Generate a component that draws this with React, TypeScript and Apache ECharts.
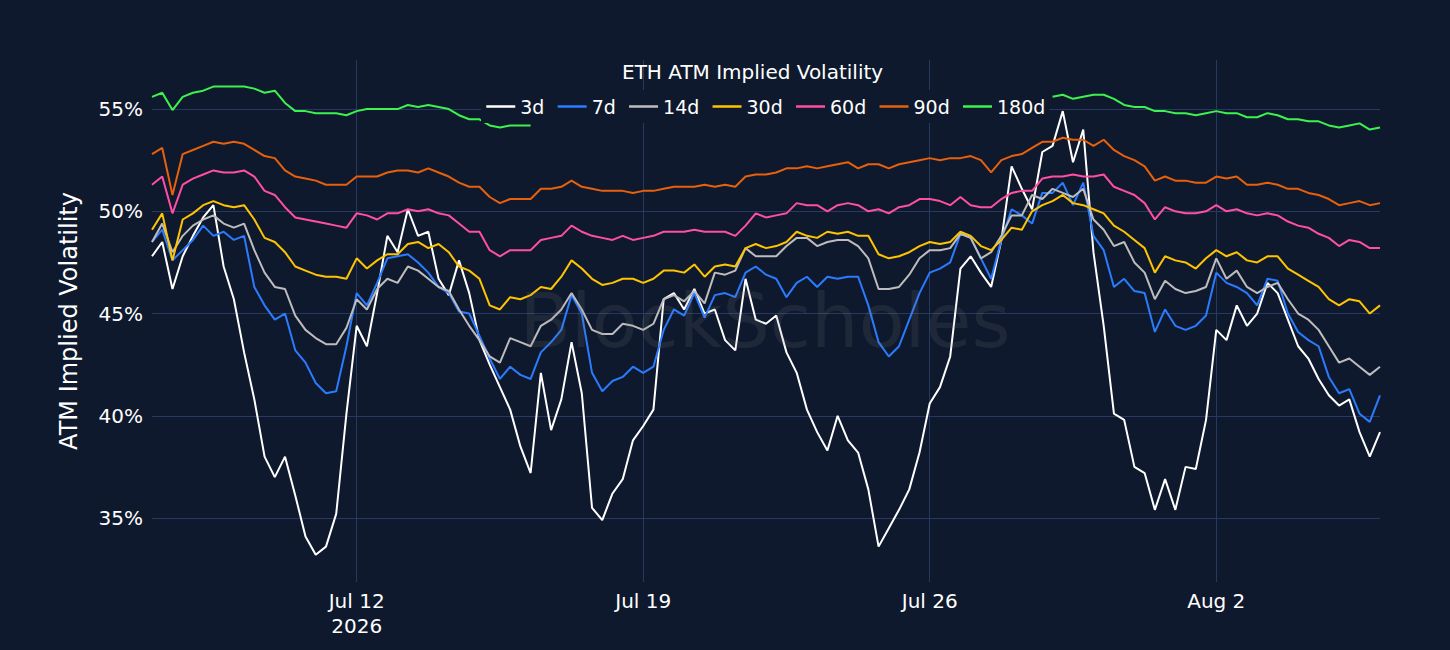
import { useEffect, useRef } from 'react'
import * as echarts from 'echarts'

// x is counted in days from Sun Jul 5 2026 00:00, one reading every 6 hours
const startDay = 2 // Jul 7 2026 00:00
const stepDays = 0.25

const vol3d = [
  47.8, 48.5, 46.2, 47.8, 48.8, 49.7, 50.3, 47.3, 45.7, 43.1,
  40.8, 38.0, 37.0, 38.0, 36.1, 34.1, 33.2, 33.6, 35.2, 40.1,
  44.4, 43.4, 46.0, 48.8, 48.0, 50.1, 48.8, 49.0, 46.7, 45.9,
  47.6, 46.0, 43.7, 42.5, 41.4, 40.3, 38.5, 37.2, 42.1, 39.3,
  40.8, 43.6, 41.1, 35.5, 34.9, 36.2, 36.9, 38.8, 39.5, 40.3,
  45.7, 46.0, 45.2, 46.2, 45.0, 45.2, 43.7, 43.2, 46.7, 44.7,
  44.5, 44.9, 43.1, 42.1, 40.3, 39.2, 38.3, 40.0, 38.8, 38.2,
  36.4, 33.6, 34.5, 35.4, 36.4, 38.2, 40.6, 41.4, 42.9, 47.2,
  47.8, 47.0, 46.3, 48.6, 52.2, 51.1, 50.1, 52.9, 53.2, 54.9,
  52.4, 54.0, 48.0, 44.4, 40.1, 39.8, 37.5, 37.2, 35.4, 36.9,
  35.4, 37.5, 37.4, 39.8, 44.2, 43.7, 45.4, 44.4, 45.0, 46.5,
  46.0, 44.7, 43.4, 42.8, 41.8, 41.0, 40.5, 40.8, 39.2, 38.0,
  39.2,
]

const vol7d = [
  48.5, 49.1, 47.6, 48.1, 48.6, 49.3, 48.8, 49.0, 48.6, 48.8,
  46.3, 45.4, 44.7, 45.0, 43.2, 42.6, 41.6, 41.1, 41.2, 43.4,
  46.0, 45.4, 46.5, 47.7, 47.8, 47.9, 47.5, 47.0, 46.3, 46.0,
  45.1, 45.0, 43.9, 42.8, 41.8, 42.4, 42.0, 41.8, 43.1, 43.6,
  44.2, 45.9, 45.0, 42.1, 41.2, 41.7, 41.9, 42.4, 42.1, 42.4,
  44.2, 45.2, 44.9, 46.0, 44.8, 45.9, 46.0, 45.8, 47.0, 47.3,
  46.9, 46.7, 45.8, 46.5, 46.8, 46.3, 46.8, 46.7, 46.8, 46.8,
  45.4, 43.6, 42.9, 43.4, 44.7, 46.0, 47.0, 47.2, 47.5, 48.9,
  48.7, 47.7, 46.7, 48.6, 50.1, 49.8, 49.4, 50.9, 50.9, 51.4,
  50.3, 51.4, 48.8, 48.1, 46.3, 46.7, 46.1, 46.0, 44.1, 45.2,
  44.4, 44.2, 44.4, 44.9, 47.0, 46.5, 46.3, 46.0, 45.4, 46.7,
  46.6, 45.0, 44.1, 43.7, 43.4, 41.9, 41.1, 41.3, 40.1, 39.7,
  41.0,
]

const vol14d = [
  48.5, 49.4, 48.0, 48.8, 49.3, 49.6, 49.8, 49.4, 49.2, 49.4,
  48.1, 47.0, 46.3, 46.2, 44.9, 44.2, 43.8, 43.5, 43.5, 44.3,
  45.7, 45.2, 46.2, 46.7, 46.5, 47.3, 47.1, 46.7, 46.3, 46.1,
  45.2, 44.4, 43.7, 42.9, 42.6, 43.8, 43.6, 43.4, 44.4, 44.7,
  45.2, 46.0, 45.2, 44.2, 44.0, 44.0, 44.5, 44.4, 44.2, 44.5,
  45.7, 45.9, 45.6, 46.1, 45.5, 47.0, 46.9, 47.1, 48.2, 47.8,
  47.8, 47.8, 48.3, 48.7, 48.7, 48.3, 48.5, 48.6, 48.6, 48.3,
  47.7, 46.2, 46.2, 46.3, 46.9, 47.7, 48.1, 48.1, 48.2, 48.9,
  48.7, 47.7, 48.0, 48.8, 49.8, 49.8, 50.8, 50.6, 51.1, 50.9,
  50.7, 51.1, 49.6, 49.1, 48.3, 48.5, 47.5, 47.0, 45.7, 46.6,
  46.2, 46.0, 46.1, 46.3, 47.7, 46.7, 47.1, 46.3, 46.0, 46.3,
  46.5, 45.7, 45.0, 44.7, 44.2, 43.4, 42.6, 42.8, 42.4, 42.0,
  42.4,
]

const vol30d = [
  49.1, 49.9, 47.6, 49.6, 49.9, 50.3, 50.5, 50.3, 50.2, 50.3,
  49.6, 48.7, 48.5, 48.0, 47.3, 47.1, 46.9, 46.8, 46.8, 46.7,
  47.7, 47.2, 47.6, 47.9, 47.9, 48.4, 48.5, 48.2, 48.4, 48.0,
  47.3, 47.1, 46.7, 45.4, 45.2, 45.8, 45.7, 45.9, 46.3, 46.2,
  46.8, 47.6, 47.2, 46.7, 46.4, 46.5, 46.7, 46.7, 46.5, 46.7,
  47.1, 47.1, 47.0, 47.4, 46.8, 47.3, 47.4, 47.3, 48.2, 48.4,
  48.2, 48.3, 48.5, 49.0, 48.8, 48.7, 49.0, 48.9, 49.0, 48.8,
  48.8, 47.9, 47.7, 47.8, 48.0, 48.3, 48.5, 48.4, 48.5, 49.0,
  48.8, 48.3, 48.1, 48.6, 49.2, 49.1, 50.0, 50.3, 50.5, 50.8,
  50.4, 50.3, 50.1, 49.9, 49.3, 49.0, 48.6, 48.2, 47.0, 47.8,
  47.6, 47.5, 47.2, 47.7, 48.1, 47.8, 48.0, 47.6, 47.5, 47.8,
  47.8, 47.2, 46.9, 46.6, 46.3, 45.7, 45.4, 45.7, 45.6, 45.0,
  45.4,
]

const vol60d = [
  51.3, 51.7, 49.9, 51.3, 51.6, 51.8, 52.0, 51.9, 51.9, 52.0,
  51.7, 51.0, 50.8, 50.2, 49.7, 49.6, 49.5, 49.4, 49.3, 49.2,
  49.9, 49.8, 49.6, 49.9, 49.9, 50.1, 50.0, 50.1, 49.9, 49.8,
  49.4, 49.0, 49.0, 48.1, 47.8, 48.1, 48.1, 48.1, 48.6, 48.7,
  48.8, 49.3, 49.0, 48.8, 48.7, 48.6, 48.8, 48.6, 48.7, 48.8,
  49.0, 49.0, 49.0, 49.1, 49.0, 49.0, 49.0, 48.8, 49.3, 49.9,
  49.7, 49.8, 49.9, 50.4, 50.3, 50.3, 50.0, 50.3, 50.4, 50.3,
  50.0, 50.1, 49.9, 50.2, 50.3, 50.6, 50.6, 50.5, 50.3, 50.7,
  50.3, 50.2, 50.2, 50.6, 50.9, 51.0, 51.0, 51.6, 51.7, 51.7,
  51.8, 51.7, 51.7, 51.8, 51.2, 51.0, 50.8, 50.4, 49.6, 50.2,
  50.0, 49.9, 49.9, 50.0, 50.3, 50.0, 50.1, 49.9, 49.8, 49.9,
  49.8, 49.5, 49.3, 49.2, 48.9, 48.7, 48.3, 48.6, 48.5, 48.2,
  48.2,
]

const vol90d = [
  52.8, 53.1, 50.8, 52.8, 53.0, 53.2, 53.4, 53.3, 53.4, 53.3,
  53.0, 52.7, 52.6, 52.0, 51.7, 51.6, 51.5, 51.3, 51.3, 51.3,
  51.7, 51.7, 51.7, 51.9, 52.0, 52.0, 51.9, 52.1, 51.9, 51.7,
  51.4, 51.2, 51.2, 50.7, 50.4, 50.6, 50.6, 50.6, 51.1, 51.1,
  51.2, 51.5, 51.2, 51.1, 51.0, 51.0, 51.0, 50.9, 51.0, 51.0,
  51.1, 51.2, 51.2, 51.2, 51.3, 51.2, 51.3, 51.2, 51.7, 51.8,
  51.8, 51.9, 52.1, 52.1, 52.2, 52.1, 52.2, 52.3, 52.4, 52.1,
  52.3, 52.3, 52.1, 52.3, 52.4, 52.5, 52.6, 52.5, 52.6, 52.6,
  52.7, 52.5, 51.9, 52.5, 52.7, 52.8, 53.1, 53.4, 53.4, 53.6,
  53.5, 53.5, 53.2, 53.5, 53.0, 52.7, 52.5, 52.2, 51.5, 51.7,
  51.5, 51.5, 51.4, 51.4, 51.7, 51.6, 51.7, 51.3, 51.3, 51.4,
  51.3, 51.1, 51.1, 50.9, 50.8, 50.6, 50.3, 50.4, 50.5, 50.3,
  50.4,
]

// 180d has no readings between Jul 16 06:00 and Jul 28 18:00
const vol180d = [
  55.6, 55.8, 54.95, 55.6, 55.8, 55.9, 56.1, 56.1, 56.1, 56.1,
  56.0, 55.8, 55.9, 55.3, 54.9, 54.9, 54.8, 54.8, 54.8, 54.7,
  54.9, 55.0, 55.0, 55.0, 55.0, 55.2, 55.1, 55.2, 55.1, 55.0,
  54.7, 54.5, 54.5, 54.2, 54.1, 54.2, 54.2, 54.2, null, null,
  null, null, null, null, null, null, null, null, null, null,
  null, null, null, null, null, null, null, null, null, null,
  null, null, null, null, null, null, null, null, null, null,
  null, null, null, null, null, null, null, null, null, null,
  null, null, null, null, null, null, null, null, 55.6, 55.7,
  55.5, 55.6, 55.7, 55.7, 55.5, 55.2, 55.1, 55.1, 54.9, 54.9,
  54.8, 54.8, 54.7, 54.8, 54.9, 54.8, 54.8, 54.6, 54.6, 54.8,
  54.7, 54.5, 54.5, 54.4, 54.4, 54.2, 54.1, 54.2, 54.3, 54.0,
  54.1,
]

const seriesNames = ['3d', '7d', '14d', '30d', '60d', '90d', '180d']
const seriesValues = [vol3d, vol7d, vol14d, vol30d, vol60d, vol90d, vol180d]
const seriesColors = ['#ffffff', '#2b7bff', '#bdbdbd', '#ffc400', '#ff4fa3', '#e8600c', '#3cf24e']

const monthNames = ['Jan', 'Feb', 'Mar', 'Apr', 'May', 'Jun', 'Jul', 'Aug', 'Sep', 'Oct', 'Nov', 'Dec']

const bg = '#0f192d'
const font = 'DejaVu Sans'

export default function App() {
  const chartRef = useRef<HTMLDivElement>(null)

  useEffect(() => {
    if (!chartRef.current) return
    const chart = echarts.init(chartRef.current, null, { renderer: 'svg' })

    const option = {
      animation: false,
      backgroundColor: bg,
      textStyle: { fontFamily: font },
      title: {
        text: 'ETH ATM Implied Volatility',
        left: 622,
        top: 62,
        padding: 0,
        textStyle: { color: '#ffffff', fontSize: 20, fontWeight: 'normal', fontFamily: font }
      },
      legend: {
        data: seriesNames,
        left: 481,
        top: 90,
        padding: [7, 4],
        itemWidth: 29,
        itemHeight: 14,
        itemGap: 12,
        backgroundColor: bg,
        itemStyle: { opacity: 0 },
        lineStyle: { width: 2.5 },
        textStyle: { color: '#ffffff', fontSize: 19, fontFamily: font }
      },
      grid: { left: 152, right: 70, top: 60, bottom: 68 },
      xAxis: {
        type: 'value',
        min: 2,
        max: 32,
        splitNumber: 5,
        minInterval: 7,
        maxInterval: 7,
        axisLine: { show: false },
        axisTick: { show: false },
        axisLabel: {
          color: '#ffffff',
          fontSize: 20,
          fontFamily: font,
          lineHeight: 25,
          margin: 6,
          showMinLabel: false,
          showMaxLabel: false,
          formatter: (v: number) => {
            const d = new Date(Date.UTC(2026, 6, 5) + v * 86400000)
            const s = `${monthNames[d.getUTCMonth()]} ${d.getUTCDate()}`
            return v === 7 ? `${s}\n2026` : s
          }
        },
        splitLine: { show: true, showMinLine: false, showMaxLine: false, lineStyle: { color: '#283961', width: 1 } }
      },
      yAxis: {
        type: 'value',
        min: 31.87,
        max: 57.4,
        splitNumber: 5,
        minInterval: 5,
        maxInterval: 5,
        name: 'ATM Implied Volatility',
        nameLocation: 'middle',
        nameGap: 71,
        nameRotate: 90,
        nameTextStyle: { color: '#ffffff', fontSize: 24, fontFamily: font },
        axisLine: { show: false },
        axisTick: { show: false },
        axisLabel: {
          color: '#ffffff',
          fontSize: 20,
          fontFamily: font,
          margin: 9,
          showMinLabel: false,
          showMaxLabel: false,
          formatter: (v: number) => `${v}%`
        },
        splitLine: { showMinLine: false, showMaxLine: false, lineStyle: { color: '#283961', width: 1 } }
      },
      graphic: [
        {
          type: 'text',
          x: 765,
          y: 321,
          z: 100,
          silent: true,
          style: {
            text: 'BlockScholes',
            fill: 'rgba(128,128,128,0.15)',
            font: `75px "${font}"`,
            textAlign: 'center',
            textVerticalAlign: 'middle'
          }
        }
      ],
      series: seriesNames.map((name, k) => ({
        name,
        type: 'line',
        symbol: 'none',
        silent: true,
        connectNulls: false,
        data: seriesValues[k].map((v, i) => [startDay + i * stepDays, v]),
        lineStyle: { color: seriesColors[k], width: 2 },
        itemStyle: { color: seriesColors[k] }
      }))
    }

    chart.setOption(option)

    return () => {
      chart.dispose()
    }
  }, [])

  return (
    <div
      ref={chartRef}
      style={{ position: 'fixed', left: 0, top: 0, width: 1450, height: 650, background: bg }}
    />
  )
}
